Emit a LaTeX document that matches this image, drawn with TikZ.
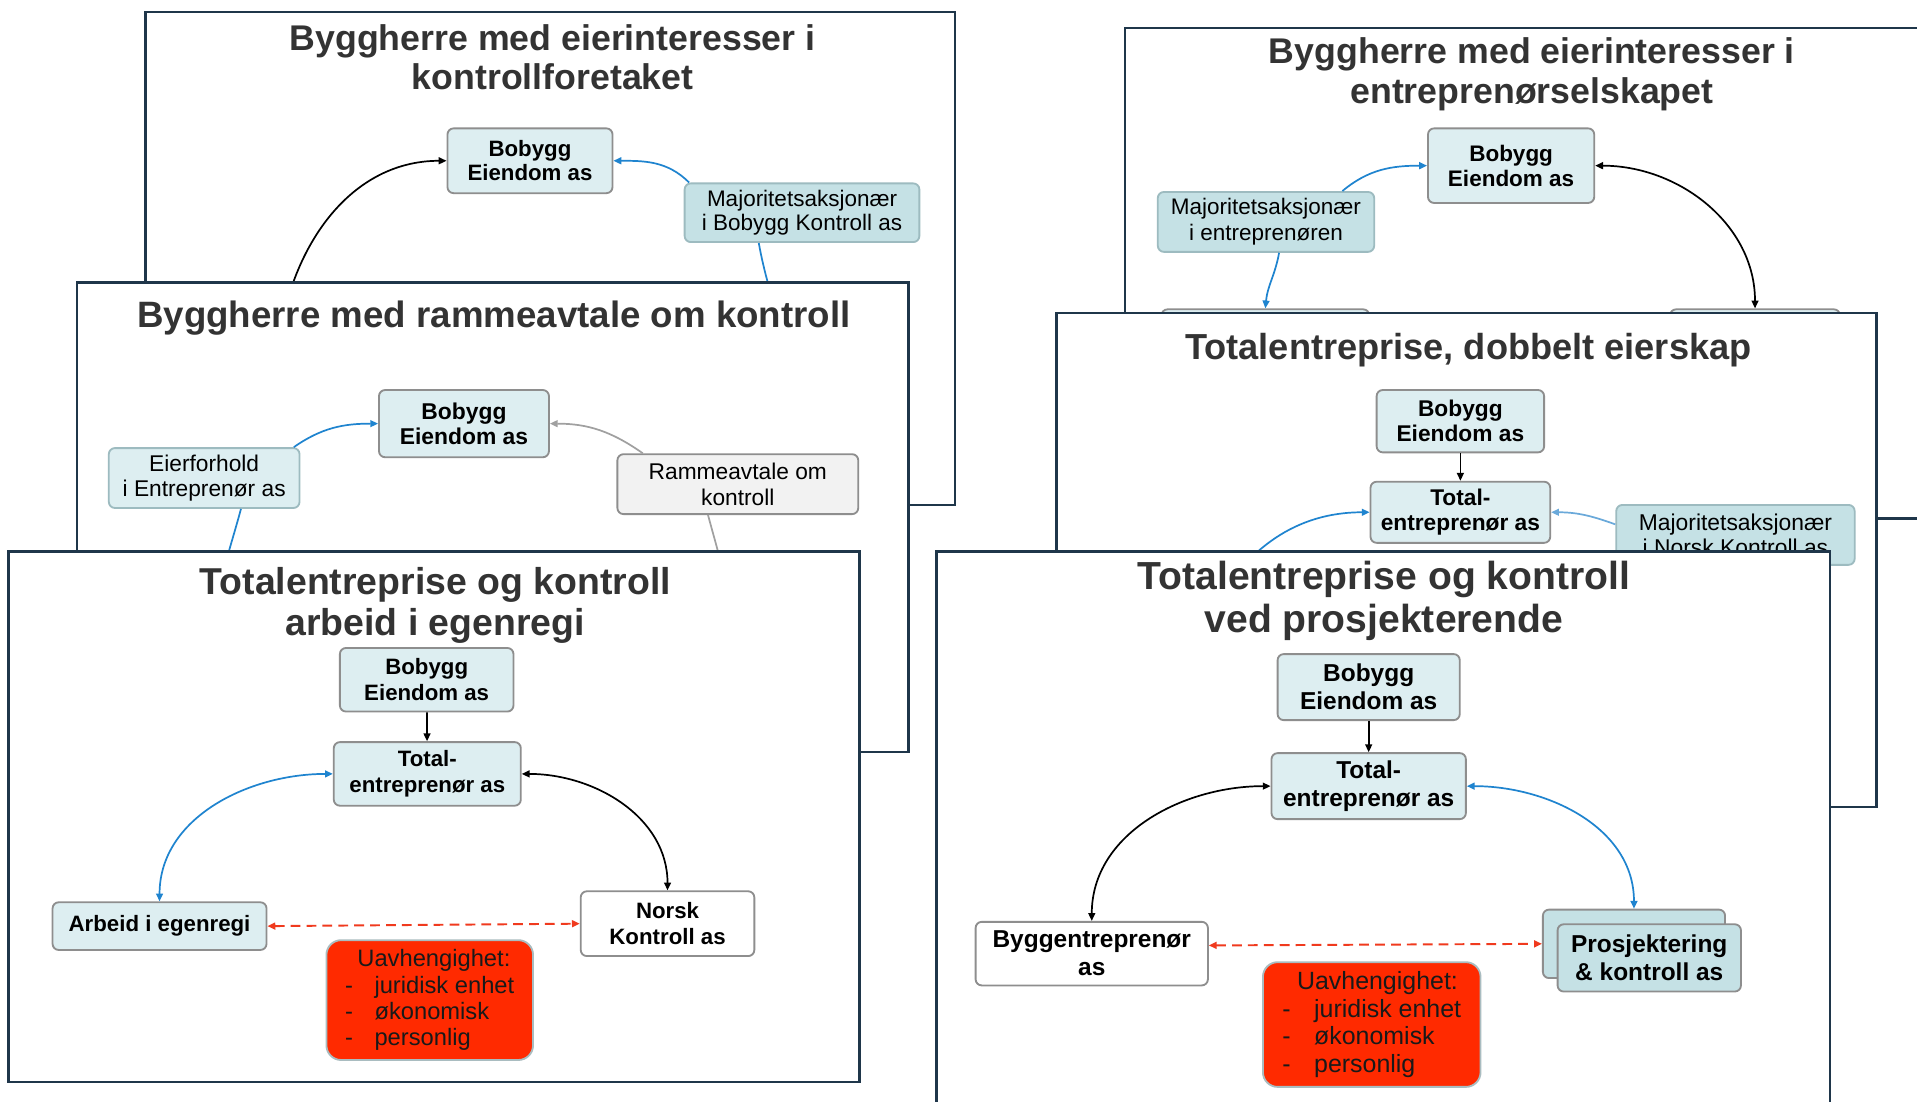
\documentclass[tikz,border=0pt]{standalone}
\usepackage{fontspec}
\setmainfont{Liberation Sans}
\usetikzlibrary{arrows.meta}
\definecolor{frame}{HTML}{1F364A}
\definecolor{ttlgray}{HTML}{333333}
\definecolor{lite}{HTML}{DDEEF1}
\definecolor{deep}{HTML}{C5E1E5}
\definecolor{boxline}{HTML}{8E8E8E}
\definecolor{cyanline}{HTML}{9DBBC0}
\definecolor{redfill}{HTML}{FF2A00}
\definecolor{redline}{HTML}{A9BCC0}
\definecolor{linkblue}{HTML}{1F84CF}
\definecolor{paleblue}{HTML}{6AA9DA}
\definecolor{linkgray}{HTML}{A0A0A0}
\definecolor{dashred}{HTML}{F03A1E}
\tikzset{
  panel/.style={draw=frame, line width=1pt, fill=white},
  ttl/.style 2 args={text=ttlgray, align=center, font=\bfseries\fontsize{#1}{#2}\selectfont},
  bx/.style 2 args={draw=boxline, line width=0.75pt, rounded corners=2.5pt, inner sep=0pt,
    align=center, minimum width=#1*0.5pt, minimum height=#2*0.5pt},
  bftxt/.style 2 args={font=\bfseries\fontsize{#1}{#2}\selectfont},
  rmtxt/.style 2 args={font=\fontsize{#1}{#2}\selectfont},
  pale/.style={fill=lite},
  dark/.style={fill=deep, draw=cyanline},
  paledark/.style={fill=lite, draw=cyanline},
  grey/.style={fill=black!5},
  redbox/.style={fill=redfill, draw=redline, rounded corners=6pt, align=left, text=black!90},
  blk/.style={draw=black, line width=0.7pt},
  blu/.style={draw=linkblue, line width=0.7pt},
  ltblu/.style={draw=paleblue, line width=0.7pt},
  gry/.style={draw=linkgray, line width=0.7pt},
  reddash/.style={draw=dashred, line width=0.8pt, dash pattern=on 4pt off 2.5pt}
}
\begin{document}
\begin{tikzpicture}[x=0.5pt, y=-0.5pt, >={Triangle[length=3.2pt,width=2.8pt]}]
    \useasboundingbox (0,0) rectangle (1568,901);

    \draw[panel] (119,10) rectangle (781,413);
    \node[ttl={14.6pt}{16pt}] (t1) at (452,47) {Byggherre med eierinteresser i\\kontrollforetaket};
    \node[bx={135}{53}, pale, bftxt={9.1pt}{10pt}] (b1) at (433.5,131.5) {Bobygg\\Eiendom as};
    \node[bx={192}{48}, dark, rmtxt={9.2pt}{10pt}] (m1) at (656,174) {Majoritetsaksjonær\\i Bobygg Kontroll as};
    \coordinate (k1) at (227,290);
    \coordinate (k2) at (640,290);
    \draw[blk, ->] (k1) to[out=85, in=180] (b1.west);
    \draw[blu, ->] (m1.165) to[out=135, in=0] (b1.east);
    \draw[blu] (m1.215) to[out=-80, in=95] (k2);

    \draw[panel] (63,231) rectangle (743,615);
    \node[ttl={15pt}{16.5pt}] (t2) at (404,260) {Byggherre med rammeavtale om kontroll};
    \node[bx={139}{55}, pale, bftxt={9.35pt}{10.3pt}] (b2) at (379.5,346.5) {Bobygg\\Eiendom as};
    \node[bx={156}{49}, paledark, rmtxt={9.3pt}{10.5pt}] (e2) at (167,391) {Eierforhold\\i Entreprenør as};
    \node[bx={197}{49}, grey, rmtxt={9.3pt}{10.5pt}] (r2) at (603.5,396) {Rammeavtale om\\kontroll};
    \coordinate (k3) at (178,500);
    \coordinate (k4) at (596,500);
    \draw[blu, ->] (e2.19) to[out=35, in=180] (b2.west);
    \draw[gry, ->] (r2.162) to[out=145, in=0] (b2.east);
    \draw[blu] (e2.-40) to[out=-105, in=85] (k3);
    \draw[gry] (r2.-134) to[out=-75, in=95] (k4);

    \draw[panel] (7,451) rectangle (703,885);
    \node[ttl={15.3pt}{16.6pt}] (t3) at (356,495) {Totalentreprise og kontroll\\arbeid i egenregi};
    \node[bx={142}{52}, pale, bftxt={9.1pt}{10.5pt}] (b3) at (349,556) {Bobygg\\Eiendom as};
    \node[bx={153}{52}, pale, bftxt={9.1pt}{10.5pt}] (e3) at (349.5,633) {Total-\\entreprenør as};
    \node[bx={175}{39}, pale, bftxt={9.1pt}{10.5pt}] (a3) at (130.5,757.5) {Arbeid i egenregi};
    \node[bx={142}{53}, fill=white, bftxt={9.1pt}{10.5pt}] (n3) at (546,755.5) {Norsk\\Kontroll as};
    \node[bx={169}{98}, redbox, rmtxt={9.7pt}{10.7pt}] (u3) at (351.5,818)
      {\hspace*{5pt}Uavhengighet:\\\makebox[12pt][l]{-}juridisk enhet\\\makebox[12pt][l]{-}økonomisk\\\makebox[12pt][l]{-}personlig};
    \draw[blk, ->] (b3) -- (e3);
    \draw[blu, <->] (e3.west) to[out=180, in=90] (a3.north);
    \draw[blk, <->] (e3.east) to[out=0, in=90] (n3.north);
    \draw[reddash, <->] (a3.east) -- (n3.west);

    \draw[panel] (920,23) rectangle (1600,424);
    \node[ttl={14.6pt}{16.5pt}] (t4) at (1253,60.5) {Byggherre med eierinteresser i\\entreprenørselskapet};
    \node[bx={136}{61}, pale, bftxt={9.2pt}{10.3pt}] (b4) at (1236,135.5) {Bobygg\\Eiendom as};
    \node[bx={177}{49}, dark, rmtxt={9.2pt}{10.5pt}] (m4) at (1035.5,181.5) {Majoritetsaksjonær\\i entreprenøren};
    \node[bx={170}{50}, pale] (h4a) at (1035,278) {};
    \node[bx={139}{50}, pale] (h4b) at (1435.5,278) {};
    \draw[blu, ->] (m4.22) to[out=40, in=180] (b4.west);
    \draw[blk, <->] (b4.east) to[out=0, in=90] (h4b.north);
    \draw[blu, ->] (m4.-67) to[out=-100, in=85] (h4a.north);

    \draw[panel] (864,256) rectangle (1535,660);
    \node[ttl={14.8pt}{16pt}] (t5) at (1201,286) {Totalentreprise, dobbelt eierskap};
    \node[bx={137}{51}, pale, bftxt={9.3pt}{10.3pt}] (b5) at (1194.5,344.5) {Bobygg\\Eiendom as};
    \node[bx={147}{50}, pale, bftxt={9.3pt}{10.3pt}] (e5) at (1194.5,419) {Total-\\entreprenør as};
    \node[bx={195}{49}, dark, rmtxt={9.35pt}{10.5pt}] (m5) at (1419.5,437.5) {Majoritetsaksjonær\\i Norsk Kontroll as};
    \coordinate (k5) at (990,500);
    \draw[blk, ->] (b5) -- (e5);
    \draw[ltblu, ->] (m5.175) to[out=160, in=0] (e5.east);
    \draw[blu, ->] (k5) to[out=60, in=180] (e5.west);

    \draw[panel] (766,451) rectangle (1497,930);
    \node[ttl={16pt}{17.5pt}] (t6) at (1132,491.5) {Totalentreprise og kontroll\\ved prosjekterende};
    \node[bx={149}{54}, pale, bftxt={10pt}{11.5pt}] (b6) at (1119.5,562) {Bobygg\\Eiendom as};
    \node[bx={159}{54}, pale, bftxt={10pt}{11.5pt}] (e6) at (1119.5,643) {Total-\\entreprenør as};
    \node[bx={190}{52}, fill=white, bftxt={10pt}{11.5pt}] (g6) at (893,780) {Byggentreprenør\\as};
    \node[bx={149}{56}, fill=deep] (p6b) at (1336.5,772) {};
    \node[bx={150}{55}, fill=deep, bftxt={10pt}{11.5pt}] (p6) at (1349,783.5) {Prosjektering\\\& kontroll as};
    \node[bx={178}{102}, redbox, rmtxt={10.2pt}{11.2pt}] (u6) at (1122,838)
      {\hspace*{6pt}Uavhengighet:\\\makebox[13pt][l]{-}juridisk enhet\\\makebox[13pt][l]{-}økonomisk\\\makebox[13pt][l]{-}personlig};
    \draw[blk, ->] (b6) -- (e6);
    \draw[blk, <->] (e6.west) to[out=180, in=90] (g6.north);
    \draw[blu, <->] (e6.east) to[out=0, in=90] (p6b.north);
    \draw[reddash, <->] (g6.4) -- (p6b.west);
\end{tikzpicture}
\end{document}
